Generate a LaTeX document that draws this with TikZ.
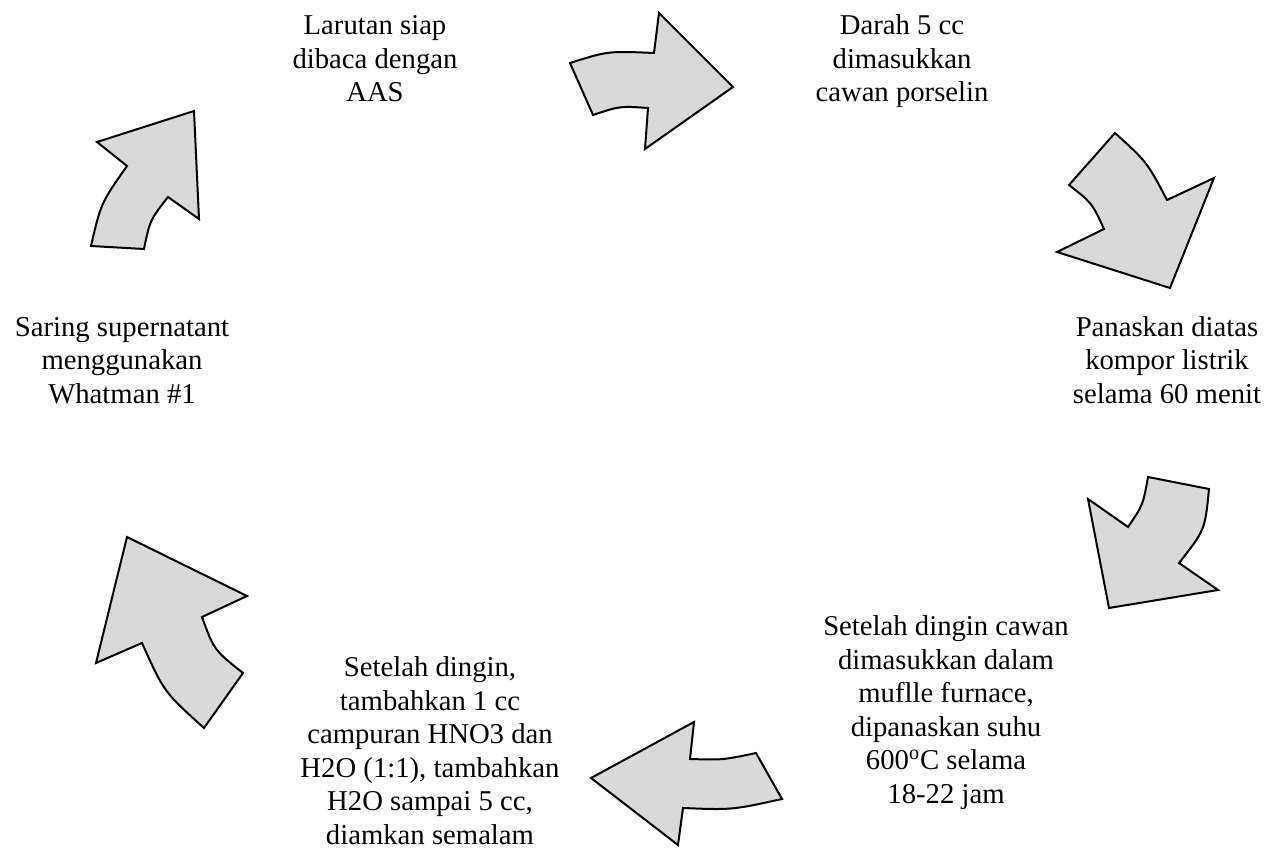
\documentclass[tikz,border=0pt]{standalone}
\usepackage{fontspec}
\setmainfont{Liberation Serif}
\usepackage{tikz}

\begin{document}
\begin{tikzpicture}[x=0.5pt,y=-0.5pt,
            langkah/.style={align=center, anchor=base, inner sep=0pt, font=\fontsize{14.35}{16.75}\selectfont},
            panah/.style={draw=black, fill=black!15, line width=1pt, line join=miter}]
            \useasboundingbox (0,0) rectangle (1264,861);
            % Steps (placed at the baseline of the last line):
            \node[langkah] (baca) at (375,102) {Larutan siap\\dibaca dengan\\AAS};
            \node[langkah] (darah) at (902,102) {Darah 5 cc\\dimasukkan\\cawan porselin};
            \node[langkah] (panas) at (1167,403) {Panaskan diatas\\kompor listrik\\selama 60 menit};
            \node[langkah] (furnace) at (946,803) {Setelah dingin cawan\\dimasukkan dalam\\muflle furnace,\\dipanaskan suhu\\600\textsuperscript{o}C selama\\18-22 jam};
            \node[langkah] (asam) at (430,844) {Setelah dingin,\\tambahkan 1 cc\\campuran HNO3 dan\\H2O (1:1), tambahkan\\H2O sampai 5 cc,\\diamkan semalam};
            \node[langkah] (saring) at (122,403) {Saring supernatant\\menggunakan\\Whatman \#1};

            % Arrows:
            \draw[panah] (570,63) .. controls (608,51) .. (654,53) -- (659,13) -- (733,87) -- (645,149) -- (648,108) .. controls (620,106) .. (593,115) -- cycle;
            \draw[panah] (1115,133) -- (1069,185) .. controls (1092,203) .. (1104,229) -- (1057,252) -- (1170,288) -- (1214,178) -- (1167,200) .. controls (1147,162) .. (1115,133) -- cycle;
            \draw[panah] (1148,477) -- (1209,489) .. controls (1205,530) .. (1179,563) -- (1218,590) -- (1109,608) -- (1088,499) -- (1128,527) .. controls (1143,505) .. (1148,477) -- cycle;
            \draw[panah] (756,753) -- (782,799) .. controls (732,810) .. (683,808) -- (678,845) -- (591,778) -- (694,722) -- (690,759) .. controls (723,760) .. (756,753) -- cycle;
            \draw[panah] (127,537) -- (247,596) -- (202,617) .. controls (214,650) .. (243,673) -- (204,728) .. controls (164,692) .. (142,643) -- (96,663) -- cycle;
            \draw[panah] (91,246) .. controls (101,203) .. (127,166) -- (97,142) -- (194,111) -- (199,219) -- (168,197) .. controls (150,220) .. (144,249) -- cycle;
        \end{tikzpicture}
\end{document}
